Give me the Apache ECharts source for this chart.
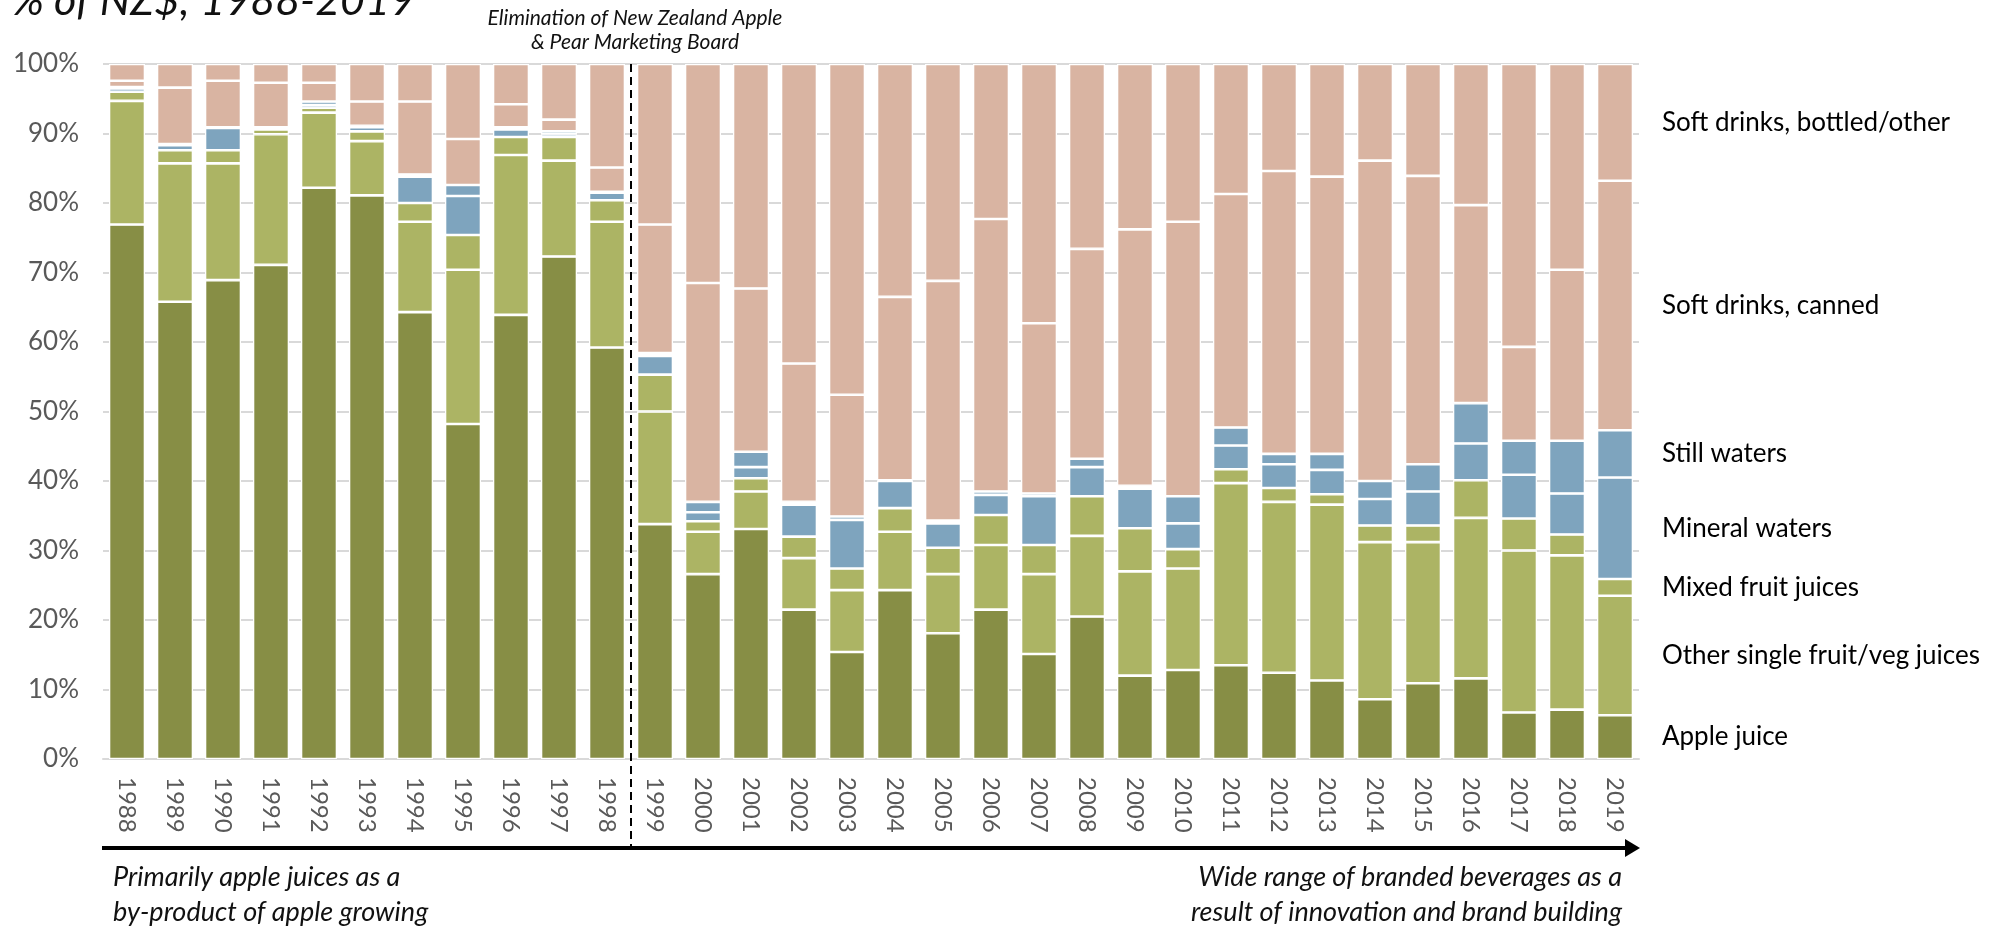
<!DOCTYPE html>
<html>
<head>
<meta charset="utf-8">
<script src="https://cdn.jsdelivr.net/npm/echarts@6/dist/echarts.min.js"></script>
<style>
  html, body { margin: 0; padding: 0; background: #ffffff; }
  #chart { width: 1998px; height: 926px; }
</style>
</head>
<body>
<div id="chart"></div>
<script>
// Share of beverage sales by category, % of NZ$, 1988-2019
const years = ['1988','1989','1990','1991','1992','1993','1994','1995','1996','1997','1998',
  '1999','2000','2001','2002','2003','2004','2005','2006','2007','2008','2009','2010',
  '2011','2012','2013','2014','2015','2016','2017','2018','2019'];

const appleJuice = [76.9, 65.8, 68.9, 71.1, 82.2, 81.1, 64.3, 48.2, 63.9, 72.3, 59.2,
  33.8, 26.6, 33.1, 21.5, 15.4, 24.3, 18.1, 21.5, 15.1, 20.5, 12.0, 12.8,
  13.5, 12.4, 11.3, 8.6, 10.9, 11.6, 6.7, 7.1, 6.3];
const otherSingleJuices = [17.8, 19.9, 16.8, 18.8, 10.8, 7.8, 13.0, 22.2, 23.0, 13.8, 18.1,
  16.2, 6.1, 5.4, 7.4, 8.9, 8.4, 8.5, 9.3, 11.5, 11.6, 15.0, 14.6,
  26.2, 24.6, 25.3, 22.6, 20.3, 23.1, 23.3, 22.2, 17.2];
const mixedJuices = [1.3, 1.9, 1.9, 0.7, 0.7, 1.4, 2.7, 5.0, 2.6, 3.4, 3.1,
  5.3, 1.5, 1.9, 3.1, 3.1, 3.4, 3.8, 4.3, 4.2, 5.7, 6.2, 2.8,
  2.0, 2.0, 1.5, 2.4, 2.4, 5.4, 4.6, 3.0, 2.4];
const mineralWaters = [0.5, 0.7, 3.2, 0.2, 0.4, 0.6, 3.8, 5.6, 1.1, 0.4, 1.1,
  2.7, 1.3, 1.6, 4.6, 7.0, 3.9, 3.5, 2.9, 7.0, 4.2, 5.7, 3.7,
  3.4, 3.4, 3.5, 3.8, 4.9, 5.3, 6.3, 5.9, 14.6];
const stillWaters = [0.2, 0.2, 0.1, 0.1, 0.5, 0.2, 0.3, 1.6, 0.3, 0.4, 0.1,
  0.4, 1.5, 2.2, 0.4, 0.5, 0.1, 0.4, 0.5, 0.4, 1.2, 0.4, 3.9,
  2.6, 1.5, 2.3, 2.6, 3.9, 5.8, 4.9, 7.6, 6.8];
const softCanned = [0.9, 8.1, 6.7, 6.4, 2.7, 3.5, 10.5, 6.6, 3.3, 1.7, 3.5,
  18.5, 31.5, 23.5, 19.9, 17.5, 26.4, 34.5, 39.2, 24.5, 30.2, 36.9, 39.5,
  33.6, 40.7, 39.9, 46.1, 41.5, 28.5, 13.5, 24.6, 35.9];
const softBottled = [2.4, 3.4, 2.4, 2.7, 2.7, 5.4, 5.4, 10.8, 5.8, 8.0, 14.9,
  23.1, 31.5, 32.3, 43.1, 47.6, 33.5, 31.2, 22.3, 37.3, 26.6, 23.8, 22.7,
  18.7, 15.4, 16.2, 13.9, 16.1, 20.3, 40.7, 29.6, 16.8];

const seriesNames = ['Apple juice', 'Other single fruit/veg juices', 'Mixed fruit juices',
  'Mineral waters', 'Still waters', 'Soft drinks, canned', 'Soft drinks, bottled/other'];
const seriesValues = [appleJuice, otherSingleJuices, mixedJuices, mineralWaters,
  stillWaters, softCanned, softBottled];
const seriesColors = ['#878e45', '#acb464', '#acb464', '#7ea4be', '#7ea4be', '#d9b4a2', '#d9b4a2'];

const FONT = 'Lato, "Open Sans", sans-serif';
const chart = echarts.init(document.getElementById('chart'), null, { renderer: 'canvas' });

const lastIdx = years.length - 1;
const series = seriesNames.map((name, s) => ({
  name: name,
  type: 'bar',
  stack: 'share',
  barCategoryGap: '25%',
  itemStyle: { color: seriesColors[s], borderColor: '#ffffff', borderWidth: 1.3 },
  emphasis: { disabled: true },
  label: {
    show: false,
    position: 'right',
    distance: 29,
    color: '#000000',
    fontSize: 26,
    fontFamily: FONT,
    formatter: () => name
  },
  data: seriesValues[s].map((v, i) => i === lastIdx ? { value: v, label: { show: true } } : v)
}));

chart.setOption({
  animation: false,
  backgroundColor: '#ffffff',
  grid: { left: 103, right: 359, top: 64, bottom: 167, containLabel: false },
  xAxis: {
    type: 'category',
    data: years,
    axisLine: { show: true, lineStyle: { color: '#d9d9d9', width: 2 } },
    axisTick: { show: false },
    axisLabel: {
      interval: 0, rotate: -90, margin: 18,
      color: '#595959', fontSize: 24, fontFamily: FONT
    }
  },
  yAxis: {
    type: 'value',
    min: 0, max: 100, interval: 10,
    axisLine: { show: false },
    axisTick: { show: false },
    axisLabel: { formatter: '{value}%', margin: 24, color: '#595959', fontSize: 26, fontFamily: FONT },
    splitLine: { show: true, lineStyle: { color: '#d9d9d9', width: 2 } }
  },
  series: series
});

// Annotations: era divider, timeline arrow and captions
const xA = chart.convertToPixel({ xAxisIndex: 0 }, '1998');
const xB = chart.convertToPixel({ xAxisIndex: 0 }, '1999');
const xDivider = (xA + xB) / 2;
const yTop = chart.convertToPixel({ yAxisIndex: 0 }, 100);
const yBase = chart.convertToPixel({ yAxisIndex: 0 }, 0);
const xFirst = chart.convertToPixel({ xAxisIndex: 0 }, years[0]);
const xLast = chart.convertToPixel({ xAxisIndex: 0 }, years[lastIdx]);
const step = xB - xA;
const arrowY = yBase + 89;
const arrowStart = xFirst - step / 2 - 1;
const arrowEnd = xLast + step / 2 + 1;

chart.setOption({
  graphic: [
    {
      type: 'text', left: 12, top: -20,
      style: { text: '% of NZ$; 1988-2019', fontSize: 43, fontStyle: 'italic',
        fontFamily: FONT, fill: '#111111' }
    },
    {
      type: 'text', x: xDivider + 4, y: 30,
      style: { text: 'Elimination of New Zealand Apple\n& Pear Marketing Board',
        fontSize: 21, fontStyle: 'italic', fontFamily: FONT, fill: '#111111',
        align: 'center', verticalAlign: 'middle', lineHeight: 24 },
      z: 10
    },
    {
      type: 'line', z: 20,
      shape: { x1: xDivider, y1: yTop, x2: xDivider, y2: arrowY },
      style: { stroke: '#000000', lineWidth: 2, lineDash: [8, 5] }
    },
    {
      type: 'line', z: 20,
      shape: { x1: arrowStart, y1: arrowY, x2: arrowEnd - 12, y2: arrowY },
      style: { stroke: '#000000', lineWidth: 4 }
    },
    {
      type: 'polygon', z: 20,
      shape: { points: [[arrowEnd - 15, arrowY - 9], [arrowEnd, arrowY], [arrowEnd - 15, arrowY + 9]] },
      style: { fill: '#000000' }
    },
    {
      type: 'text', x: arrowStart + 11, y: arrowY + 47,
      style: { text: 'Primarily apple juices as a\nby-product of apple growing',
        fontSize: 27, fontStyle: 'italic', fontFamily: FONT, fill: '#111111',
        align: 'left', verticalAlign: 'middle', lineHeight: 35 }
    },
    {
      type: 'text', x: arrowEnd - 18, y: arrowY + 47,
      style: { text: 'Wide range of branded beverages as a\nresult of innovation and brand building',
        fontSize: 27, fontStyle: 'italic', fontFamily: FONT, fill: '#111111',
        align: 'right', verticalAlign: 'middle', lineHeight: 35 }
    }
  ]
});
</script>
</body>
</html>
